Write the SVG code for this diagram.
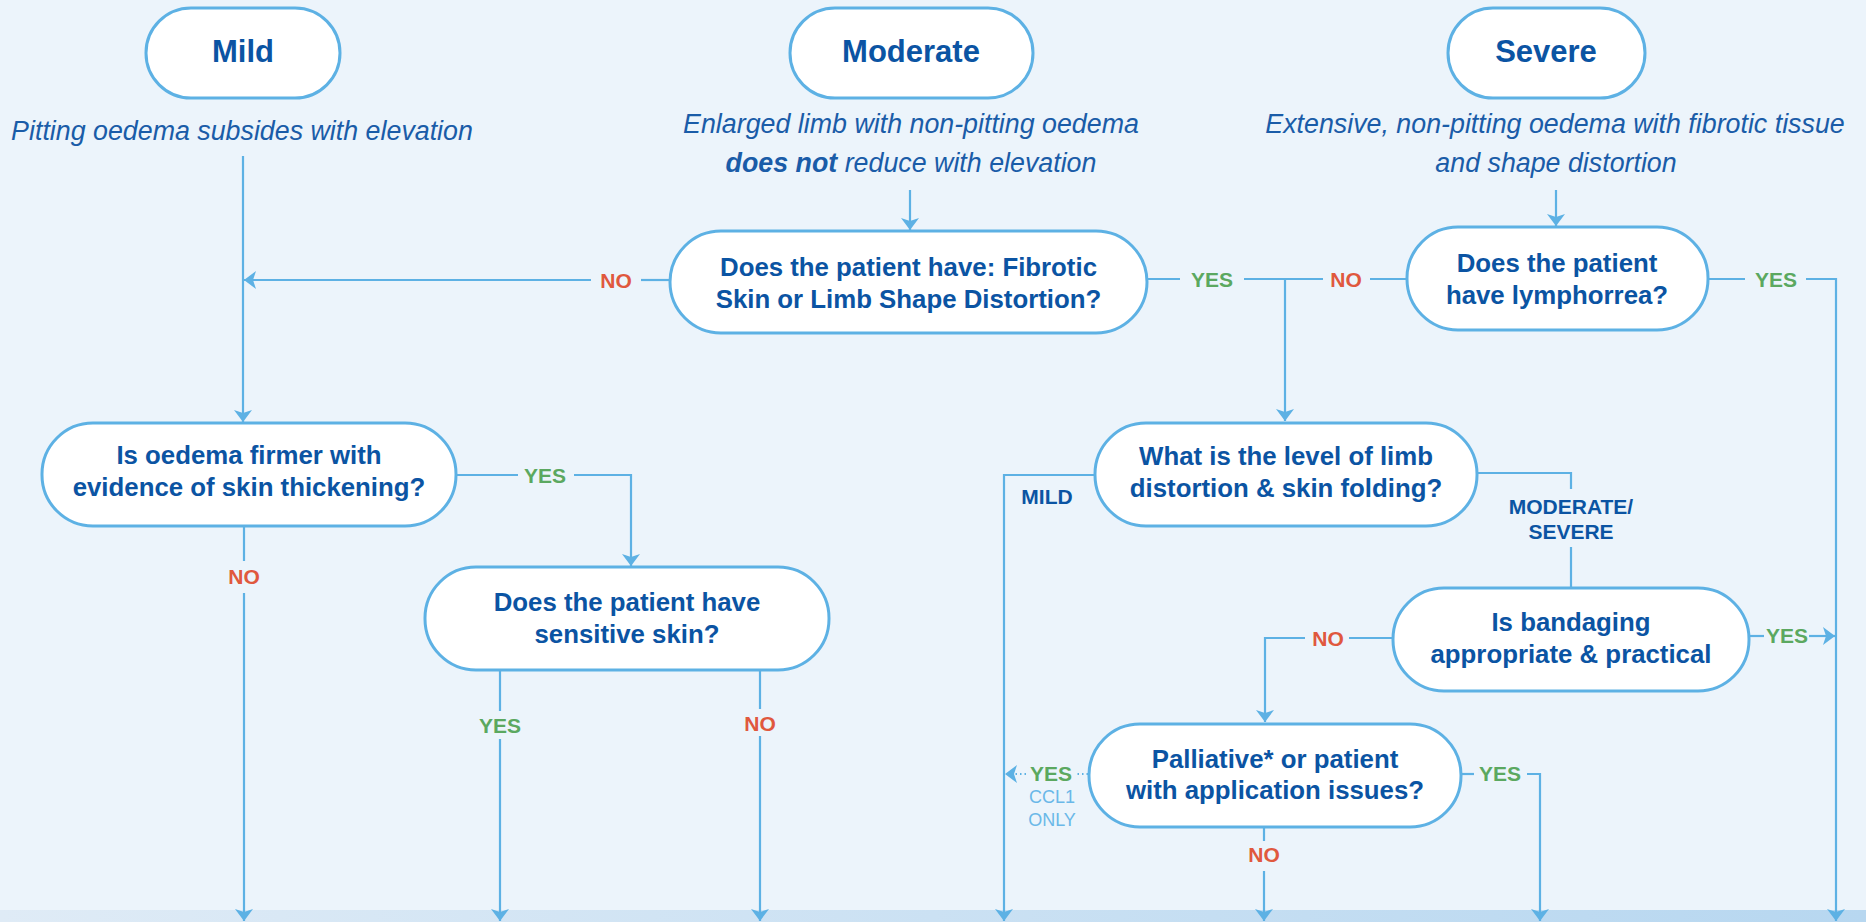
<svg xmlns="http://www.w3.org/2000/svg" width="1866" height="922" viewBox="0 0 1866 922">
<defs>
<linearGradient id="band" x1="0" y1="0" x2="1" y2="0">
<stop offset="0" stop-color="#DFEBF6"/>
<stop offset="1" stop-color="#B7D7F0"/>
</linearGradient>
<marker id="ah" markerUnits="userSpaceOnUse" markerWidth="14" markerHeight="20" viewBox="0 -10 14 20" refX="12" refY="0" orient="auto">
<path d="M0,-9 L12,0 L0,9 L3,0 z" fill="#5DB1E4"/>
</marker>
<style>
.pill{fill:#FFFFFF;stroke:#5DB1E4;stroke-width:3}
.ln{fill:none;stroke:#5DB1E4;stroke-width:2.2}
.dot{fill:none;stroke:#5DB1E4;stroke-width:2;stroke-dasharray:1.5 3}
.title{font-family:"Liberation Sans",Arial,sans-serif;font-weight:bold;font-size:31px;fill:#0B54A3;text-anchor:middle}
.sub{font-family:"Liberation Sans",Arial,sans-serif;font-style:italic;font-size:26.8px;fill:#1A5CA8;text-anchor:middle}
.q{font-family:"Liberation Sans",Arial,sans-serif;font-weight:bold;font-size:25.8px;fill:#0B54A3;text-anchor:middle}
.yes{font-family:"Liberation Sans",Arial,sans-serif;font-weight:bold;font-size:21px;fill:#5BA860;text-anchor:middle}
.no{font-family:"Liberation Sans",Arial,sans-serif;font-weight:bold;font-size:21px;fill:#E0583E;text-anchor:middle}
.lvl{font-family:"Liberation Sans",Arial,sans-serif;font-weight:bold;font-size:21px;fill:#0B54A3;text-anchor:middle}
.ccl{font-family:"Liberation Sans",Arial,sans-serif;font-size:18px;fill:#6AB8E8;text-anchor:middle}
</style>
</defs>
<rect x="0" y="0" width="1866" height="922" fill="#ECF4FB"/>
<rect x="0" y="910" width="1866" height="12" fill="url(#band)"/>

<g id="mild">
<rect class="pill" x="146" y="8" width="194" height="90" rx="45"/>
<text class="title" x="243" y="62">Mild</text>
<text class="sub" x="242" y="140">Pitting oedema subsides with elevation</text>
</g>
<g id="moderate">
<rect class="pill" x="790" y="8" width="243" height="90" rx="45"/>
<text class="title" x="911" y="62">Moderate</text>
<text class="sub" x="911" y="133">Enlarged limb with non-pitting oedema</text>
<text class="sub" x="911" y="172"><tspan font-weight="bold">does not</tspan> reduce with elevation</text>
</g>
<g id="severe">
<rect class="pill" x="1448" y="8" width="197" height="90" rx="45"/>
<text class="title" x="1546" y="62">Severe</text>
<text class="sub" x="1555" y="133">Extensive, non-pitting oedema with fibrotic tissue</text>
<text class="sub" x="1556" y="172">and shape distortion</text>
</g>

<g id="q-fibrotic">
<rect class="pill" x="670" y="231" width="477" height="102" rx="51"/>
<text class="q" x="908.5" y="276">Does the patient have: Fibrotic</text>
<text class="q" x="908.5" y="308">Skin or Limb Shape Distortion?</text>
</g>
<g id="q-lymphorrea">
<rect class="pill" x="1407" y="227" width="301" height="103" rx="51"/>
<text class="q" x="1557" y="272">Does the patient</text>
<text class="q" x="1557" y="304">have lymphorrea?</text>
</g>
<g id="q-firmer">
<rect class="pill" x="42" y="423" width="414" height="103" rx="51"/>
<text class="q" x="249" y="464">Is oedema firmer with</text>
<text class="q" x="249" y="496">evidence of skin thickening?</text>
</g>
<g id="q-sensitive">
<rect class="pill" x="425" y="567" width="404" height="103" rx="51"/>
<text class="q" x="627" y="611">Does the patient have</text>
<text class="q" x="627" y="643">sensitive skin?</text>
</g>
<g id="q-level">
<rect class="pill" x="1095" y="423" width="382" height="103" rx="51"/>
<text class="q" x="1286" y="465">What is the level of limb</text>
<text class="q" x="1286" y="497">distortion &amp; skin folding?</text>
</g>
<g id="q-bandaging">
<rect class="pill" x="1393" y="588" width="356" height="103" rx="51"/>
<text class="q" x="1571" y="631">Is bandaging</text>
<text class="q" x="1571" y="663">appropriate &amp; practical</text>
</g>
<g id="q-palliative">
<rect class="pill" x="1089" y="724" width="372" height="103" rx="51"/>
<text class="q" x="1275" y="768">Palliative* or patient</text>
<text class="q" x="1275" y="799">with application issues?</text>
</g>

<g id="connectors">
<path class="ln" d="M243,156 V422" marker-end="url(#ah)"/>
<path class="ln" d="M910,190 V230" marker-end="url(#ah)"/>
<path class="ln" d="M670,280 H641"/>
<path class="ln" d="M591,280 H244" marker-end="url(#ah)"/>
<path class="ln" d="M1147,279 H1180"/>
<path class="ln" d="M1244,279 H1323"/>
<path class="ln" d="M1370,279 H1407"/>
<path class="ln" d="M1285,279 V421" marker-end="url(#ah)"/>
<path class="ln" d="M1556,190 V226" marker-end="url(#ah)"/>
<path class="ln" d="M1708,279 H1745"/>
<path class="ln" d="M1806,279 H1836 V921" marker-end="url(#ah)"/>
<path class="ln" d="M456,475 H518"/>
<path class="ln" d="M574,475 H631 V566" marker-end="url(#ah)"/>
<path class="ln" d="M244,526 V561"/>
<path class="ln" d="M244,593 V921" marker-end="url(#ah)"/>
<path class="ln" d="M500,670 V711"/>
<path class="ln" d="M500,739 V921" marker-end="url(#ah)"/>
<path class="ln" d="M760,670 V709"/>
<path class="ln" d="M760,736 V921" marker-end="url(#ah)"/>
<path class="ln" d="M1095,475 H1004 V921" marker-end="url(#ah)"/>
<path class="ln" d="M1477,473 H1571 V489"/>
<path class="ln" d="M1571,547 V588"/>
<path class="ln" d="M1749,636 H1764"/>
<path class="ln" d="M1809,636 H1835" marker-end="url(#ah)"/>
<path class="ln" d="M1393,638 H1349"/>
<path class="ln" d="M1305,638 H1265 V722" marker-end="url(#ah)"/>
<path class="ln" d="M1461,774 H1474"/>
<path class="ln" d="M1527,774 H1540 V921" marker-end="url(#ah)"/>
<path class="ln" d="M1264,827 V841"/>
<path class="ln" d="M1264,871 V921" marker-end="url(#ah)"/>
<path class="dot" d="M1088,774 H1076"/>
<path class="dot" d="M1026,774 H1005" marker-end="url(#ah)"/>

<text class="no" x="616" y="288">NO</text>
<text class="yes" x="1212" y="287">YES</text>
<text class="no" x="1346" y="287">NO</text>
<text class="yes" x="1776" y="287">YES</text>
<text class="yes" x="545" y="483">YES</text>
<text class="no" x="244" y="584">NO</text>
<text class="yes" x="500" y="733">YES</text>
<text class="no" x="760" y="731">NO</text>
<text class="lvl" x="1047" y="504">MILD</text>
<text class="lvl" x="1571" y="514">MODERATE/</text>
<text class="lvl" x="1571" y="539">SEVERE</text>
<text class="no" x="1328" y="646">NO</text>
<text class="yes" x="1787" y="643">YES</text>
<text class="yes" x="1500" y="781">YES</text>
<text class="yes" x="1051" y="781">YES</text>
<text class="ccl" x="1052" y="803">CCL1</text>
<text class="ccl" x="1052" y="826">ONLY</text>
<text class="no" x="1264" y="862">NO</text>
</g>
</svg>
